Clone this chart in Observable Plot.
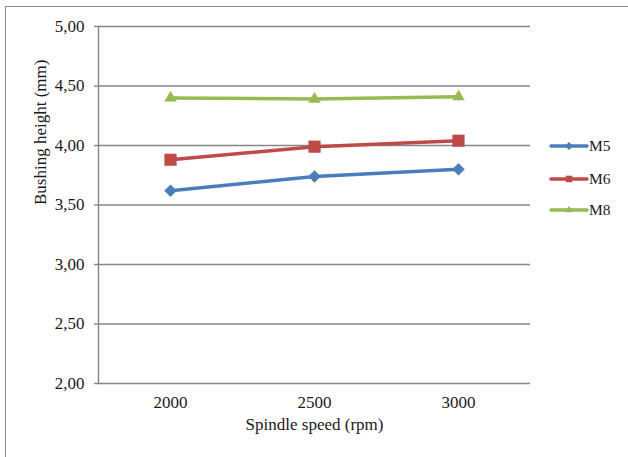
<!DOCTYPE html>
<html>
<head>
<meta charset="utf-8">
<script src="https://cdn.jsdelivr.net/npm/d3@7"></script>
<script src="https://cdn.jsdelivr.net/npm/@observablehq/plot@0.6"></script>
<style>
  html, body { margin: 0; padding: 0; background: #fff; overflow: hidden; }
  #wrap { position: relative; width: 628px; height: 457px; }
  #frame { position: absolute; left: 5px; top: 6px; width: 660px; height: 480px;
           border: 1.5px solid #8a8a8a; box-sizing: border-box; }
  #chart { position: absolute; left: 0; top: 0; }
  #legend { position: absolute; left: 540px; top: 130px; }
</style>
</head>
<body>
<div id="wrap">
  <div id="frame"></div>
  <div id="chart"></div>
  <svg id="legend" width="88" height="100"></svg>
</div>
<script>
// Spindle speed categories (rpm)
const speeds = ["2000", "2500", "3000"];
// Bushing height (mm) per thread size
const m5 = [3.62, 3.74, 3.80];
const m6 = [3.88, 3.99, 4.04];
const m8 = [4.40, 4.39, 4.41];
const seriesNames = ["M5", "M6", "M8"];
const seriesColors = ["#4A7EBB", "#BE4B48", "#98B954"];
const seriesSymbols = ["diamond2", "square2", "triangle2"];
const yTicks = [2.0, 2.5, 3.0, 3.5, 4.0, 4.5, 5.0];

const rows = [];
[m5, m6, m8].forEach((vals, i) => {
  vals.forEach((v, j) => rows.push({series: seriesNames[i], speed: speeds[j], value: v}));
});

const fmt = d => d.toFixed(2).replace(".", ",");
const font = "'Liberation Serif', 'Times New Roman', serif";
const grid = "#868686";
const ink = "#1a1a1a";

const markR = {M5: 5.4, M6: 7.4, M8: 5.6};

const plot = Plot.plot({
  width: 628,
  height: 457,
  marginLeft: 98,
  marginRight: 98,
  marginTop: 26,
  marginBottom: 74,
  style: {fontFamily: font, fontSize: "17px", color: ink, background: "transparent"},
  x: {type: "point", domain: speeds, padding: 0.5},
  y: {domain: [2, 5]},
  color: {domain: seriesNames, range: seriesColors},
  symbol: {domain: seriesNames, range: seriesSymbols},
  marks: [
    Plot.ruleY(yTicks, {stroke: grid, strokeWidth: 1.4}),
    Plot.frame({anchor: "left", stroke: grid, strokeWidth: 1.4}),
    Plot.axisY(yTicks, {tickFormat: fmt, tickSize: 4, tickPadding: 10, stroke: grid,
      strokeWidth: 1.4, label: null, fontSize: 17, fill: ink}),
    Plot.axisX({tickSize: 0, tickPadding: 12, label: null, fontSize: 17, fill: ink}),
    Plot.line(rows, {x: "speed", y: "value", z: "series", stroke: "series", strokeWidth: 3.5}),
    ...seriesNames.map(s => Plot.dot(rows.filter(d => d.series === s), {
      x: "speed", y: "value", symbol: "series", fill: "series", stroke: "series",
      strokeWidth: 0.5, r: markR[s]
    })),
    Plot.text(["Bushing height (mm)"], {frameAnchor: "left", dx: -58, rotate: -90,
      fontSize: 17, fill: ink}),
    Plot.text(["Spindle speed (rpm)"], {frameAnchor: "bottom", dy: 46,
      fontSize: 17, fill: ink})
  ]
});
document.getElementById("chart").appendChild(plot);

// Series legend to the right of the plot area
const leg = d3.select("#legend");
const rowY = [16, 49, 80];
seriesNames.forEach((s, i) => {
  const g = leg.append("g").attr("transform", `translate(0,${rowY[i]})`);
  g.append("line").attr("x1", 11).attr("x2", 47).attr("y1", 0).attr("y2", 0)
    .attr("stroke", seriesColors[i]).attr("stroke-width", 3.5).attr("stroke-linecap", "round");
  const sym = {diamond2: d3.symbolDiamond2, square2: d3.symbolSquare2, triangle2: d3.symbolTriangle2}[seriesSymbols[i]];
  const size = i === 1 ? 55 : 40;
  g.append("path").attr("transform", "translate(29,0)")
    .attr("d", d3.symbol(sym, size)()).attr("fill", seriesColors[i]);
  g.append("text").attr("x", 49).attr("y", 0).attr("dy", "0.35em")
    .attr("font-family", font).attr("font-size", 15.5).attr("fill", ink).text(s);
});
</script>
</body>
</html>
